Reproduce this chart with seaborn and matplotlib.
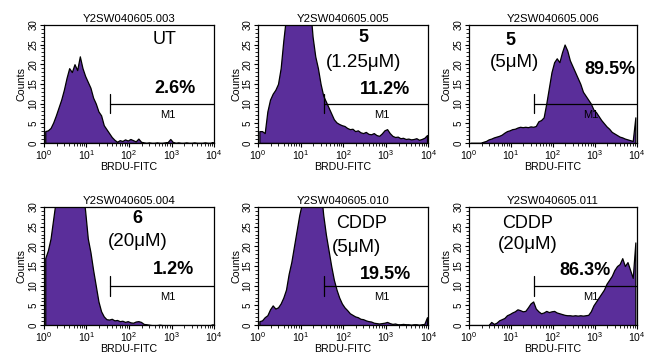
import numpy as np
import matplotlib
matplotlib.use("Agg")
import matplotlib.pyplot as plt
import seaborn as sns
from matplotlib.ticker import MultipleLocator, LogLocator, NullFormatter

# file names, sample labels and gated percentages
titles = [
    "Y2SW040605.003", "Y2SW040605.005", "Y2SW040605.006",
    "Y2SW040605.004", "Y2SW040605.010", "Y2SW040605.011",
]
labels = ["UT", "5", "5", "6", "CDDP", "CDDP"]
doses = ["", "(1.25μM)", "(5μM)", "(20μM)", "(5μM)", "(20μM)"]
percents = ["2.6%", "11.2%", "89.5%", "1.2%", "19.5%", "86.3%"]

# M1 marker: starts at ~35 on BRDU-FITC, drawn at count 10
gate_start = 35
gate_level = 10

# counts per channel, 64 log channels from 10^0 to 10^4 (16 per decade)
counts_ut = [
    3, 3.2, 3.8, 5.2, 7, 9, 11, 13.5, 16.5, 19, 18, 20, 18.5, 22, 19, 17,
    15.5, 14, 11.5, 10, 8, 7, 4.5, 3.5, 2.5, 1.5, 0.8, 0.3, 0.7, 0.5, 0.9, 0.6,
    1.0, 0.7, 0.4, 1.1, 0.3, 0.1, 0, 0.1, 0, 0, 0.1, 0, 0, 0.1, 0.2, 1.0,
    0.2, 0, 0.1, 0, 0, 0.1, 0, 0, 0.1, 0, 0, 0, 0.1, 0, 0, 0.2,
]
counts_5_125 = [
    3, 3, 2.5, 8, 11, 12.5, 13.5, 15, 19, 26, 32, 35, 35, 35, 35, 35,
    35, 35, 35, 35, 27, 22, 19, 15, 12, 10.5, 9, 7.5, 6, 5.2, 4.8, 4.5,
    4.3, 3.8, 3.5, 3.6, 3, 3.2, 2.7, 2.5, 2.8, 2.3, 2.2, 2.5, 2, 1.8, 2.4, 3.2,
    3.5, 2.5, 1.8, 1.5, 1.6, 1.2, 1.3, 1, 1.1, 0.9, 1, 1.2, 0.8, 1, 1.3, 2,
]
counts_5_5 = [
    0, 0, 0, 0, 0, 0.3, 0.5, 0.9, 1.1, 1.4, 1.6, 1.8, 2.1, 2.6, 3, 3.2,
    3.5, 3.6, 3.9, 4.1, 4, 4.1, 4, 4.2, 4.1, 4.3, 5.5, 5.8, 6.5, 10, 14, 18,
    20.5, 21.5, 20.5, 23, 25, 23.5, 21, 19.5, 18, 16.5, 15, 13, 12, 11, 10, 8.5,
    7.8, 6.8, 5.8, 5, 4.2, 3.6, 2.8, 2.4, 2, 1.6, 1.4, 1.1, 0.9, 0.7, 0.5, 6.5,
]
counts_6_20 = [
    17, 19, 22, 27, 32, 35, 35, 35, 35, 35, 35, 35, 35, 35, 35, 29,
    22, 18.5, 14, 10, 6, 3.5, 2.2, 1.5, 1.4, 1.6, 1.2, 1.3, 1, 1.1, 0.8, 1,
    0.7, 0.6, 0.9, 1.0, 0.8, 0.3, 0.2, 0.1, 0, 0, 0, 0.1, 0, 0, 0, 0,
    0, 0, 0, 0, 0, 0, 0, 0, 0, 0, 0, 0, 0, 0, 0, 0.2,
]
counts_cddp_5 = [
    1, 1.2, 2, 2.5, 4, 5, 4.2, 4.5, 5.5, 7, 9, 13, 16, 20, 24, 28,
    31, 35, 35, 35, 35, 35, 35, 35, 28, 23, 19, 15, 11.5, 9, 7, 5.5,
    4.5, 3.8, 3, 2.6, 2.2, 2, 1.6, 1.5, 1.2, 1, 0.9, 0.6, 0.5, 0.4, 0.5, 0.6,
    0.8, 0.5, 0.3, 0.4, 0.2, 0.2, 0.3, 0.2, 0.2, 0.1, 0.2, 0.2, 0.1, 0.2, 0.3, 2,
]
counts_cddp_20 = [
    0, 0, 0, 0, 0, 0, 0, 0, 0.8, 0.3, 0.6, 1.2, 1.5, 1.8, 2.5, 2.8,
    3.2, 3.5, 4, 3.8, 3.5, 3.6, 4.5, 5.5, 6, 4.2, 3.5, 3, 3.2, 3.6, 3.3, 3.5,
    3.6, 3.2, 3, 2.8, 2.6, 2.5, 2.5, 2.4, 2.5, 2.4, 2.5, 2.4, 2.5, 2.6, 3.5, 5,
    6, 7, 8, 9, 10.5, 11.5, 12.5, 14, 15, 15.5, 17, 15, 16, 14, 12, 21,
]
all_counts = [counts_ut, counts_5_125, counts_5_5, counts_6_20, counts_cddp_5, counts_cddp_20]

n_channels = 64
channels = 10 ** ((np.arange(n_channels) + 0.5) * 4 / n_channels)

# text placement (axes fraction) for each panel
label_pos = [(0.71, 0.88), (0.62, 0.89), (0.25, 0.87), (0.55, 0.90), (0.61, 0.86), (0.35, 0.86)]
dose_pos = [(0.0, 0.0), (0.62, 0.68), (0.27, 0.68), (0.55, 0.71), (0.58, 0.66), (0.35, 0.68)]
pct_pos = [(0.77, 0.46), (0.745, 0.456), (0.84, 0.62), (0.76, 0.47), (0.75, 0.43), (0.69, 0.46)]
label_bold = [False, True, True, True, False, False]

sns.set_style("ticks")
plt.rcParams["font.family"] = ["Liberation Sans", "DejaVu Sans"]
for key in ["text.color", "axes.labelcolor", "xtick.color", "ytick.color", "axes.edgecolor"]:
    plt.rcParams[key] = "black"

fig = plt.figure(figsize=(6.45, 3.6), dpi=100)
lefts = [0.068, 0.400, 0.727]
widths = [0.264, 0.264, 0.260]
bottoms = [0.603, 0.097]
h = 0.328

for k in range(6):
    ax = fig.add_axes([lefts[k % 3], bottoms[k // 3], widths[k % 3], h])
    sns.histplot(
        x=channels, weights=all_counts[k], bins=n_channels, binrange=(0, 4),
        log_scale=True, element="poly", color="#5a2e9a", alpha=1,
        edgecolor="black", linewidth=0.9, ax=ax,
    )
    ax.set_xlim(1, 1e4)
    ax.set_ylim(0, 30)
    ax.yaxis.set_major_locator(MultipleLocator(5))
    ax.yaxis.set_minor_locator(MultipleLocator(1))
    ax.xaxis.set_major_locator(LogLocator(base=10, numticks=10))
    ax.xaxis.set_minor_locator(LogLocator(base=10, subs=np.arange(2, 10), numticks=20))
    ax.xaxis.set_minor_formatter(NullFormatter())
    ax.tick_params(axis="both", which="major", length=3, width=0.8, labelsize=7.5, pad=1)
    ax.tick_params(axis="both", which="minor", length=2, width=0.6)
    ax.tick_params(axis="y", labelrotation=90, labelsize=7)
    for lab in ax.get_yticklabels():
        lab.set_va("center")
    for s in ax.spines.values():
        s.set_linewidth(0.9)
    ax.set_xlabel("BRDU-FITC", fontsize=7.7, labelpad=0)
    ax.set_ylabel("Counts", fontsize=7.7, labelpad=1)
    ax.set_title(titles[k], fontsize=8.2, pad=2)

    # M1 marker
    ax.plot([gate_start, 1e4], [gate_level, gate_level], color="black", lw=0.9)
    ax.plot([gate_start, gate_start], [gate_level - 2.5, gate_level + 2.5], color="black", lw=0.9)
    ax.text(800, gate_level - 2.8, "M1", fontsize=8, ha="center", va="center")

    ax.text(*label_pos[k], labels[k], transform=ax.transAxes, fontsize=13,
            fontweight="bold" if label_bold[k] else "normal", ha="center", va="center")
    if doses[k]:
        ax.text(*dose_pos[k], doses[k], transform=ax.transAxes, fontsize=13.5,
                ha="center", va="center")
    ax.text(*pct_pos[k], percents[k], transform=ax.transAxes, fontsize=13,
            fontweight="bold", ha="center", va="center")

fig.savefig("out.png", dpi=100)
